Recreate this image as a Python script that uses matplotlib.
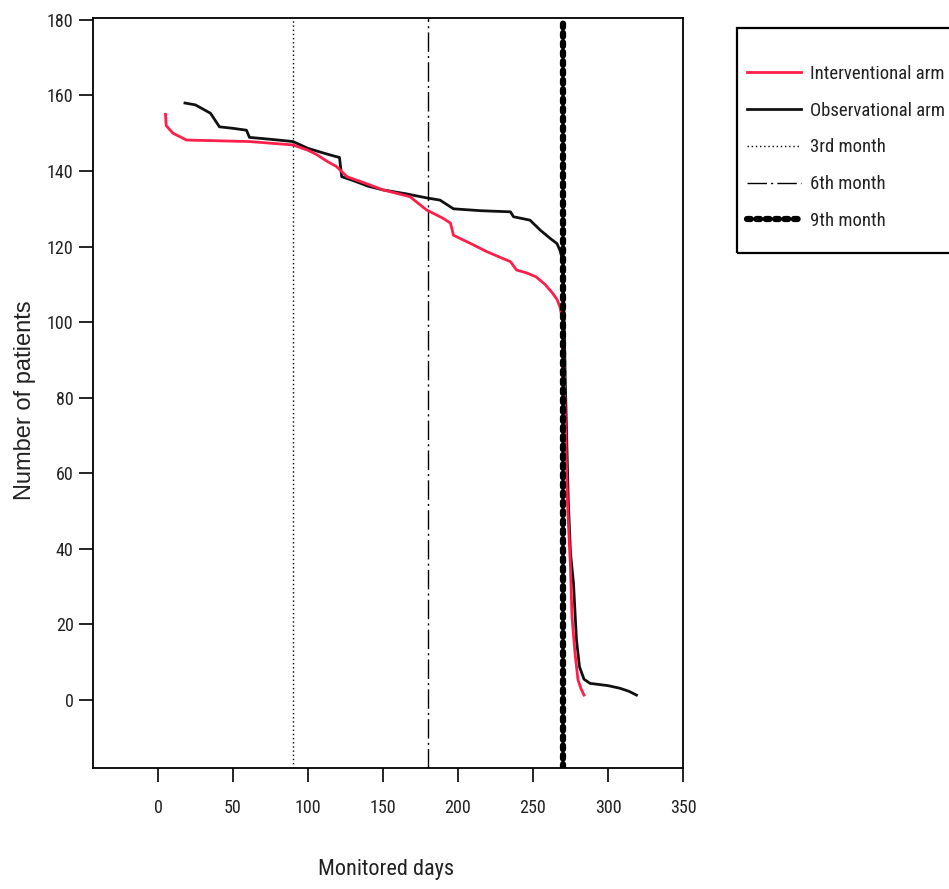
import matplotlib
matplotlib.use("Agg")
import matplotlib.pyplot as plt
from matplotlib.patches import Rectangle

# ---- data ----
interv_days = [5, 5.5, 10, 19, 40, 61, 90, 100, 106, 113, 119, 126, 140, 150, 160, 168, 179, 190, 195, 197,
               210, 219, 229, 235, 239, 246, 252, 258, 263, 266, 268, 270, 271.5, 273, 275, 276, 278, 280, 282, 284]
interv_n = [155, 152, 150, 148.2, 148, 147.8, 146.9, 145.5, 144.3, 142.5, 141.2, 138.5, 136.5, 135, 134, 133.2,
            129.7, 127.5, 126.2, 123, 120.5, 118.7, 117, 116, 113.8, 113, 112, 110, 107.7, 106, 104, 99.8,
            75, 52, 35, 22, 12.4, 5.3, 3, 1.3]

obs_days = [18, 25, 35, 41, 50, 59, 61, 75, 90, 100, 110, 117, 121, 122.5, 130, 140, 150, 165, 179, 188, 197,
            215, 235, 237, 248, 255, 262, 266, 268, 270, 271.5, 273.5, 275, 277, 279, 281, 284, 288, 300, 308,
            314, 319]
obs_n = [158, 157.5, 155.3, 151.7, 151.3, 150.8, 148.9, 148.4, 147.8, 146, 144.8, 144, 143.6, 138.5, 137.5, 136,
         135, 134, 132.9, 132.3, 130, 129.5, 129.2, 127.9, 127, 124.3, 122, 120.8, 119, 116, 85, 52.9, 38.9, 30.9,
         15.9, 8.8, 5.5, 4.4, 3.8, 3.1, 2.3, 1.3]

month_days = [90, 180, 270]
month_labels = ["3rd month", "6th month", "9th month"]
series_labels = ["Interventional arm", "Observational arm"]
xticks = [0, 50, 100, 150, 200, 250, 300, 350]
yticks = [0, 20, 40, 60, 80, 100, 120, 140, 160, 180]

# ---- fonts ----
NARROW = ["Liberation Sans Narrow", "Roboto Condensed", "Archivo Narrow", "PT Sans Narrow",
          "Liberation Sans", "DejaVu Sans"]
plt.rcParams['font.family'] = ["Liberation Sans", "DejaVu Sans"]

W, H = 949, 889
fig = plt.figure(figsize=(W / 100, H / 100), dpi=100)
ax = fig.add_axes([93 / W, 1 - 768 / H, (683 - 93) / W, (768 - 18) / H])

l1, = ax.plot(interv_days, interv_n, color="#ff1f4b", lw=2, label=series_labels[0], zorder=3)
l2, = ax.plot(obs_days, obs_n, color="#111111", lw=2, label=series_labels[1], zorder=2)
v1 = ax.axvline(month_days[0], color="black", lw=1, linestyle=(0, (1, 2)), label=month_labels[0])
v2 = ax.axvline(month_days[1], color="black", lw=1, linestyle=(0, (14, 3, 1.5, 3)), label=month_labels[1])
v3 = ax.axvline(month_days[2], color="black", lw=4.5, linestyle=(0, (0.6, 0.9)), label=month_labels[2],
                dash_capstyle="round", zorder=4)

ax.set_xlim(-43.3, 350)
ax.set_ylim(-18, 180.5)
ax.set_xticks(xticks)
ax.set_yticks(yticks)
ax.tick_params(axis="x", direction="out", length=10, width=1.2, colors="black", pad=12)
ax.tick_params(axis="y", direction="out", length=10, width=1.2, colors="black", pad=4)
for lab in ax.get_xticklabels() + ax.get_yticklabels():
    lab.set_fontfamily(NARROW)
    lab.set_fontsize(13)
    lab.set_color("#222222")
for s in ax.spines.values():
    s.set_linewidth(1.3)

ax.set_xlabel("Monitored days", fontsize=16, family=NARROW, color="#222222", va="center")
ax.xaxis.set_label_coords((386 - 93) / 590, (768 - 870) / 750)
ax.set_ylabel("Number of patients", fontsize=17, color="#222222", va="center")
ax.yaxis.set_label_coords((25 - 93) / 590, (768 - 400) / 750)

# legend frame (extends past the right edge like the reference)
fig.patches.append(Rectangle((737 / W, 1 - 253 / H), 0.3, 225 / H, transform=fig.transFigure,
                             fill=False, edgecolor="black", lw=1.6, zorder=5))
leg = fig.legend(handles=[l1, l2, v1, v2, v3], loc="upper left",
                 bbox_to_anchor=(747 / W, 1 - 65 / H), frameon=False, borderaxespad=0, borderpad=0,
                 handlelength=2.9, labelspacing=1.0, handletextpad=0.45,
                 prop={"family": NARROW, "size": 13.5})
for t in leg.get_texts():
    t.set_color("#222222")

fig.savefig("out.png", dpi=100)
